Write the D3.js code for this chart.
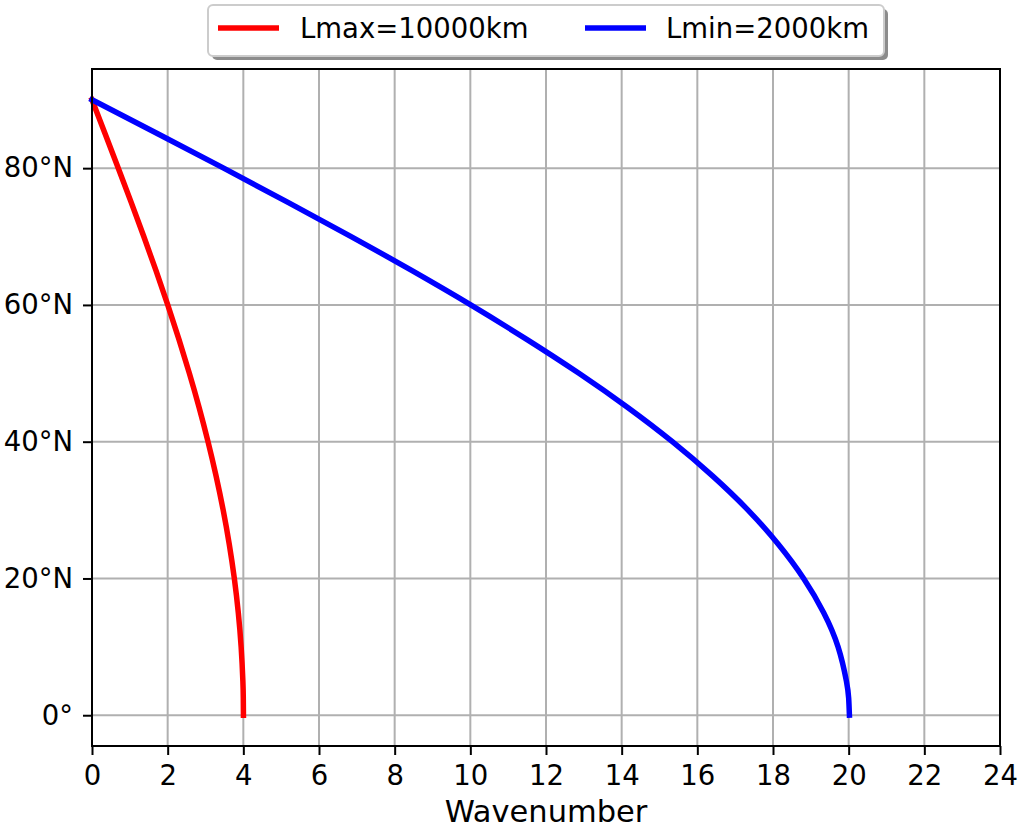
<!DOCTYPE html>
<html><head><meta charset="utf-8">
<script src="https://cdn.jsdelivr.net/npm/d3@7"></script>
<style>body{margin:0;background:#fff}svg{display:block;font-family:"DejaVu Sans",sans-serif}</style>
</head><body><svg id="c" width="1022" height="828"></svg>
<script>
const latitudes = [0, 2.5, 5, 10, 15, 20, 25, 30, 35, 40, 45, 50, 55, 60, 65, 70, 75, 80, 85, 90];
const lmaxWavenumber = [4.003, 3.999, 3.988, 3.942, 3.867, 3.762, 3.628, 3.467, 3.279, 3.066, 2.831, 2.573, 2.296, 2.002, 1.692, 1.369, 1.036, 0.695, 0.349, 0];
const lminWavenumber = [20.02, 20.00, 19.94, 19.72, 19.34, 18.81, 18.14, 17.34, 16.40, 15.34, 14.16, 12.87, 11.48, 10.01, 8.46, 6.85, 5.18, 3.48, 1.75, 0];
const seriesNames = ["Lmax=10000km", "Lmin=2000km"];
const seriesColors = ["#ff0000", "#0000ff"];
const xTicks = [0, 2, 4, 6, 8, 10, 12, 14, 16, 18, 20, 22, 24];
const yTicks = [0, 20, 40, 60, 80];
const yTickLabels = ["0°", "20°N", "40°N", "60°N", "80°N"];
const xLabel = "Wavenumber";

const svg = d3.select("#c");
const L = 92, R = 1000, T = 69, B = 746;
const x = d3.scaleLinear().domain([0, 24]).range([L, R]);
const y = d3.scaleLinear().domain([-4.5, 94.5]).range([B, T]);

// grid
const g = svg.append("g");
g.selectAll(".gx").data(xTicks).join("line")
  .attr("x1", d => x(d)).attr("x2", d => x(d)).attr("y1", T).attr("y2", B)
  .attr("stroke", "#b0b0b0").attr("stroke-width", 2);
g.selectAll(".gy").data(yTicks).join("line")
  .attr("y1", d => y(d)).attr("y2", d => y(d)).attr("x1", L).attr("x2", R)
  .attr("stroke", "#b0b0b0").attr("stroke-width", 2);

// axes
const xa = svg.append("g").attr("transform", `translate(0,${B})`)
  .call(d3.axisBottom(x).tickValues(xTicks).tickFormat(d3.format("d")).tickSize(9).tickPadding(10));
const ya = svg.append("g").attr("transform", `translate(${L},0)`)
  .call(d3.axisLeft(y).tickValues(yTicks).tickFormat((d, i) => yTickLabels[i]).tickSize(9).tickPadding(10));
[xa, ya].forEach(a => {
  a.select(".domain").remove();
  a.attr("font-size", null).attr("font-family", null);
  a.selectAll(".tick line").attr("stroke", "#000").attr("stroke-width", 2);
  a.selectAll(".tick text").attr("fill", "#000").style("font-size", "27.5px").style("font-family", "DejaVu Sans");
});

// lines
const series = [lmaxWavenumber, lminWavenumber];
series.forEach((vals, si) => {
  const pts = latitudes.map((lat, i) => [vals[i], lat]);
  svg.append("path").datum(pts)
    .attr("d", d3.line().x(d => x(d[0])).y(d => y(d[1])).curve(d3.curveNatural))
    .attr("fill", "none").attr("stroke", seriesColors[si]).attr("stroke-width", 5.5)
    .attr("stroke-linecap", "square").attr("stroke-linejoin", "round");
});

// spines
svg.append("rect").attr("x", L).attr("y", T).attr("width", R - L).attr("height", B - T)
  .attr("fill", "none").attr("stroke", "#000").attr("stroke-width", 2);

// x label
svg.append("text").attr("x", (L + R) / 2).attr("y", 822).attr("text-anchor", "middle")
  .style("font-size", "30.5px").attr("fill", "#000").text(xLabel);

// legend
const lg = svg.append("g");
lg.append("rect").attr("x", 212).attr("y", 9).attr("width", 676).attr("height", 51).attr("rx", 5)
  .attr("fill", "#808080").attr("opacity", 0.9);
lg.append("rect").attr("x", 208).attr("y", 5).attr("width", 676).attr("height", 51).attr("rx", 5)
  .attr("fill", "#fff").attr("stroke", "#cccccc").attr("stroke-width", 2);
const legX = [218, 585];
const textX = [300, 666];
seriesNames.forEach((n, i) => {
  lg.append("line").attr("x1", legX[i]).attr("x2", legX[i] + 61).attr("y1", 28).attr("y2", 28)
    .attr("stroke", seriesColors[i]).attr("stroke-width", 5.5);
  lg.append("text").attr("x", textX[i]).attr("y", 38).style("font-size", "27.5px").attr("fill", "#000").text(n);
});
</script></body></html>
